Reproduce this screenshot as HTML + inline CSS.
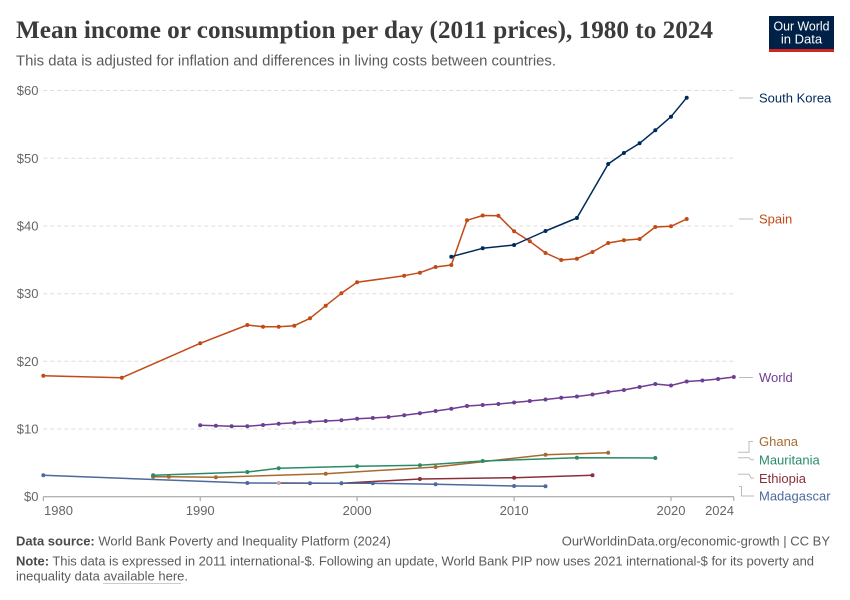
<!DOCTYPE html>
<html><head><meta charset="utf-8"><style>
html,body{margin:0;padding:0;background:#fff;}
svg{display:block;font-family:"Liberation Sans",Arial,sans-serif;}
</style></head><body>
<svg width="850" height="600" viewBox="0 0 850 600" xmlns="http://www.w3.org/2000/svg">
<rect width="850" height="600" fill="#fff"/>
<!-- Title -->
<text x="16" y="38" font-family="'Liberation Serif',serif" font-size="25" font-weight="bold" fill="#3b3b3b" textLength="697" lengthAdjust="spacingAndGlyphs">Mean income or consumption per day (2011 prices), 1980 to 2024</text>
<text x="16" y="65.5" font-size="14.5" fill="#5b5b5b" textLength="540" lengthAdjust="spacingAndGlyphs">This data is adjusted for inflation and differences in living costs between countries.</text>
<!-- Logo -->
<rect x="769" y="16" width="65" height="36" fill="#002147"/>
<rect x="769" y="49" width="65" height="3" fill="#ce261e"/>
<text x="801.5" y="30.5" font-size="13" fill="#fff" text-anchor="middle" textLength="56" lengthAdjust="spacingAndGlyphs">Our World</text>
<text x="801.5" y="43.5" font-size="13" fill="#fff" text-anchor="middle">in Data</text>
<!-- Grid -->
<g stroke="#dddddd" stroke-width="1" stroke-dasharray="4,3">
<line x1="43.3" y1="90.5" x2="733.8" y2="90.5"/>
<line x1="43.3" y1="158.3" x2="733.8" y2="158.3"/>
<line x1="43.3" y1="226" x2="733.8" y2="226"/>
<line x1="43.3" y1="293.7" x2="733.8" y2="293.7"/>
<line x1="43.3" y1="361.3" x2="733.8" y2="361.3"/>
<line x1="43.3" y1="429" x2="733.8" y2="429"/>
</g>
<g font-size="13" fill="#666" text-anchor="end">
<text x="38.5" y="95">$60</text>
<text x="38.5" y="162.8">$50</text>
<text x="38.5" y="230.5">$40</text>
<text x="38.5" y="298.2">$30</text>
<text x="38.5" y="365.8">$20</text>
<text x="38.5" y="433.5">$10</text>
<text x="38.5" y="501.2">$0</text>
</g>
<!-- X axis -->
<g stroke="#999" stroke-width="1">
<line x1="43.3" y1="496.7" x2="733.8" y2="496.7"/>
<line x1="43.3" y1="496.7" x2="43.3" y2="501"/>
<line x1="200.2" y1="496.7" x2="200.2" y2="501"/>
<line x1="357.1" y1="496.7" x2="357.1" y2="501"/>
<line x1="514.1" y1="496.7" x2="514.1" y2="501"/>
<line x1="671" y1="496.7" x2="671" y2="501"/>
<line x1="733.8" y1="496.7" x2="733.8" y2="501"/>
</g>
<g font-size="13" fill="#666">
<text x="44" y="515">1980</text>
<text x="200.2" y="515" text-anchor="middle">1990</text>
<text x="357.1" y="515" text-anchor="middle">2000</text>
<text x="514.1" y="515" text-anchor="middle">2010</text>
<text x="671" y="515" text-anchor="middle">2020</text>
<text x="734" y="515" text-anchor="end">2024</text>
</g>
<!-- Series -->
<g fill="none" stroke-width="1.5" stroke-linejoin="round">
<polyline stroke="#8B2F3A" points="278.7,483 341.4,483.2 419.9,479 514.1,477.7 592.5,475.3"/>
<polyline stroke="#4C6A9C" points="43.3,475.3 247.3,483 310,483.3 341.4,483.3 372.8,483.3 435.6,484.3 514.1,486 545.5,486.3"/>
<polyline stroke="#A66A30" points="153.1,476.7 168.8,476.8 215.9,477.3 325.7,473.7 435.6,467 545.5,454.7 608.2,452.7"/>
<polyline stroke="#2A8B68" points="153.1,475.3 247.3,472 278.7,468.3 357.1,466.3 419.9,465.3 482.7,461 576.9,457.7 655.3,458"/>
<polyline stroke="#6D3E91" points="200.2,425.3 215.9,425.7 231.6,426.3 247.3,426.3 263,425 278.7,423.7 294.3,422.7 310,421.7 325.7,421 341.4,420.3 357.1,418.7 372.8,418 388.5,417 404.2,415.3 419.9,413.3 435.6,411 451.3,408.7 467,406 482.7,405 498.4,404 514.1,402.5 529.8,401 545.5,399.5 561.2,397.8 576.9,396.5 592.5,394.5 608.2,392 623.9,390 639.6,387 655.3,384 671,385.5 686.7,381.5 702.4,380.5 718.1,379 733.8,377"/>
<polyline stroke="#C14A16" points="43.3,375.7 121.8,377.7 200.2,343.3 247.3,325 263,326.7 278.7,326.7 294.3,325.7 310,318.3 325.7,305.7 341.4,293.3 357.1,282.3 404.2,275.7 419.9,272.7 435.6,267 451.3,265 467,220.3 482.7,215.5 498.4,215.7 514.1,231.3 529.8,241.3 545.5,253 561.2,260 576.9,258.7 592.5,252 608.2,243 623.9,240.3 639.6,239 655.3,227 671,226.3 686.7,219"/>
<polyline stroke="#00295B" points="451.3,256.7 482.7,248.3 514.1,245 545.5,231 576.9,218 608.2,164 623.9,153 639.6,143.3 655.3,130.3 671,116.7 686.7,97.7"/>
</g>
<!-- markers -->
<g fill="#8B2F3A"><circle cx="278.7" cy="483" r="2" fill="#d9a0a6"/><circle cx="341.4" cy="483.2" r="2" fill="#d9a0a6"/><circle cx="419.9" cy="479" r="2"/><circle cx="514.1" cy="477.7" r="2"/><circle cx="592.5" cy="475.3" r="2"/></g>
<g fill="#4C6A9C"><circle cx="43.3" cy="475.3" r="2"/><circle cx="247.3" cy="483" r="2"/><circle cx="310" cy="483.3" r="2"/><circle cx="341.4" cy="483.3" r="2"/><circle cx="372.8" cy="483.3" r="2"/><circle cx="435.6" cy="484.3" r="2"/><circle cx="514.1" cy="486" r="2"/><circle cx="545.5" cy="486.3" r="2"/></g>
<g fill="#A66A30"><circle cx="153.1" cy="476.7" r="2"/><circle cx="168.8" cy="476.8" r="2"/><circle cx="215.9" cy="477.3" r="2"/><circle cx="325.7" cy="473.7" r="2"/><circle cx="435.6" cy="467" r="2"/><circle cx="545.5" cy="454.7" r="2"/><circle cx="608.2" cy="452.7" r="2"/></g>
<g fill="#2A8B68"><circle cx="153.1" cy="475.3" r="2"/><circle cx="247.3" cy="472" r="2"/><circle cx="278.7" cy="468.3" r="2"/><circle cx="357.1" cy="466.3" r="2"/><circle cx="419.9" cy="465.3" r="2"/><circle cx="482.7" cy="461" r="2"/><circle cx="576.9" cy="457.7" r="2"/><circle cx="655.3" cy="458" r="2"/></g>
<g fill="#6D3E91"><circle cx="200.2" cy="425.3" r="2"/><circle cx="215.9" cy="425.7" r="2"/><circle cx="231.6" cy="426.3" r="2"/><circle cx="247.3" cy="426.3" r="2"/><circle cx="263" cy="425" r="2"/><circle cx="278.7" cy="423.7" r="2"/><circle cx="294.3" cy="422.7" r="2"/><circle cx="310" cy="421.7" r="2"/><circle cx="325.7" cy="421" r="2"/><circle cx="341.4" cy="420.3" r="2"/><circle cx="357.1" cy="418.7" r="2"/><circle cx="372.8" cy="418" r="2"/><circle cx="388.5" cy="417" r="2"/><circle cx="404.2" cy="415.3" r="2"/><circle cx="419.9" cy="413.3" r="2"/><circle cx="435.6" cy="411" r="2"/><circle cx="451.3" cy="408.7" r="2"/><circle cx="467" cy="406" r="2"/><circle cx="482.7" cy="405" r="2"/><circle cx="498.4" cy="404" r="2"/><circle cx="514.1" cy="402.5" r="2"/><circle cx="529.8" cy="401" r="2"/><circle cx="545.5" cy="399.5" r="2"/><circle cx="561.2" cy="397.8" r="2"/><circle cx="576.9" cy="396.5" r="2"/><circle cx="592.5" cy="394.5" r="2"/><circle cx="608.2" cy="392" r="2"/><circle cx="623.9" cy="390" r="2"/><circle cx="639.6" cy="387" r="2"/><circle cx="655.3" cy="384" r="2"/><circle cx="671" cy="385.5" r="2"/><circle cx="686.7" cy="381.5" r="2"/><circle cx="702.4" cy="380.5" r="2"/><circle cx="718.1" cy="379" r="2"/><circle cx="733.8" cy="377" r="2"/></g>
<g fill="#C14A16"><circle cx="43.3" cy="375.7" r="2"/><circle cx="121.8" cy="377.7" r="2"/><circle cx="200.2" cy="343.3" r="2"/><circle cx="247.3" cy="325" r="2"/><circle cx="263" cy="326.7" r="2"/><circle cx="278.7" cy="326.7" r="2"/><circle cx="294.3" cy="325.7" r="2"/><circle cx="310" cy="318.3" r="2"/><circle cx="325.7" cy="305.7" r="2"/><circle cx="341.4" cy="293.3" r="2"/><circle cx="357.1" cy="282.3" r="2"/><circle cx="404.2" cy="275.7" r="2"/><circle cx="419.9" cy="272.7" r="2"/><circle cx="435.6" cy="267" r="2"/><circle cx="451.3" cy="265" r="2"/><circle cx="467" cy="220.3" r="2"/><circle cx="482.7" cy="215.5" r="2"/><circle cx="498.4" cy="215.7" r="2"/><circle cx="514.1" cy="231.3" r="2"/><circle cx="529.8" cy="241.3" r="2"/><circle cx="545.5" cy="253" r="2"/><circle cx="561.2" cy="260" r="2"/><circle cx="576.9" cy="258.7" r="2"/><circle cx="592.5" cy="252" r="2"/><circle cx="608.2" cy="243" r="2"/><circle cx="623.9" cy="240.3" r="2"/><circle cx="639.6" cy="239" r="2"/><circle cx="655.3" cy="227" r="2"/><circle cx="671" cy="226.3" r="2"/><circle cx="686.7" cy="219" r="2"/></g>
<g fill="#00295B"><circle cx="451.3" cy="256.7" r="2"/><circle cx="482.7" cy="248.3" r="2"/><circle cx="514.1" cy="245" r="2"/><circle cx="545.5" cy="231" r="2"/><circle cx="576.9" cy="218" r="2"/><circle cx="608.2" cy="164" r="2"/><circle cx="623.9" cy="153" r="2"/><circle cx="639.6" cy="143.3" r="2"/><circle cx="655.3" cy="130.3" r="2"/><circle cx="671" cy="116.7" r="2"/><circle cx="686.7" cy="97.7" r="2"/></g>
<!-- connectors -->
<g fill="none" stroke="#bbb" stroke-width="1">
<line x1="739" y1="98" x2="753" y2="98"/>
<line x1="739" y1="219" x2="753" y2="219"/>
<line x1="739" y1="377.5" x2="753" y2="377.5"/>
<polyline points="738,452.3 749,452.3 749,441.5 753,441.5"/>
<polyline points="738,457.7 749,457.7 751,459.8 754,459.8"/>
<polyline points="738,474.3 749,474.3 751,478 754,478"/>
<polyline points="739,486.5 741.5,486.5 741.5,496 754,496"/>
</g>
<g font-size="13">
<text x="759" y="102.5" fill="#00295B">South Korea</text>
<text x="759" y="223.5" fill="#C14A16">Spain</text>
<text x="759" y="382" fill="#6D3E91">World</text>
<text x="759" y="446" fill="#A66A30">Ghana</text>
<text x="759" y="464.5" fill="#2A8B68">Mauritania</text>
<text x="759" y="482.8" fill="#8B2F3A">Ethiopia</text>
<text x="759" y="500.5" fill="#4C6A9C">Madagascar</text>
</g>
<!-- footer -->
<g font-size="13" fill="#5b5b5b">
<text x="16" y="545.7"><tspan font-weight="bold" fill="#4a4a4a">Data source:</tspan> World Bank Poverty and Inequality Platform (2024)</text>
<text x="830" y="545.7" text-anchor="end">OurWorldinData.org/economic-growth | CC BY</text>
<text x="16" y="565.5" textLength="798" lengthAdjust="spacing"><tspan font-weight="bold" fill="#4a4a4a">Note:</tspan> This data is expressed in 2011 international-$. Following an update, World Bank PIP now uses 2021 international-$ for its poverty and</text>
<text x="16" y="580.5">inequality data available here.</text>
</g>
<line x1="103" y1="583.5" x2="181" y2="583.5" stroke="#ccc" stroke-width="1"/>
</svg>
</body></html>
